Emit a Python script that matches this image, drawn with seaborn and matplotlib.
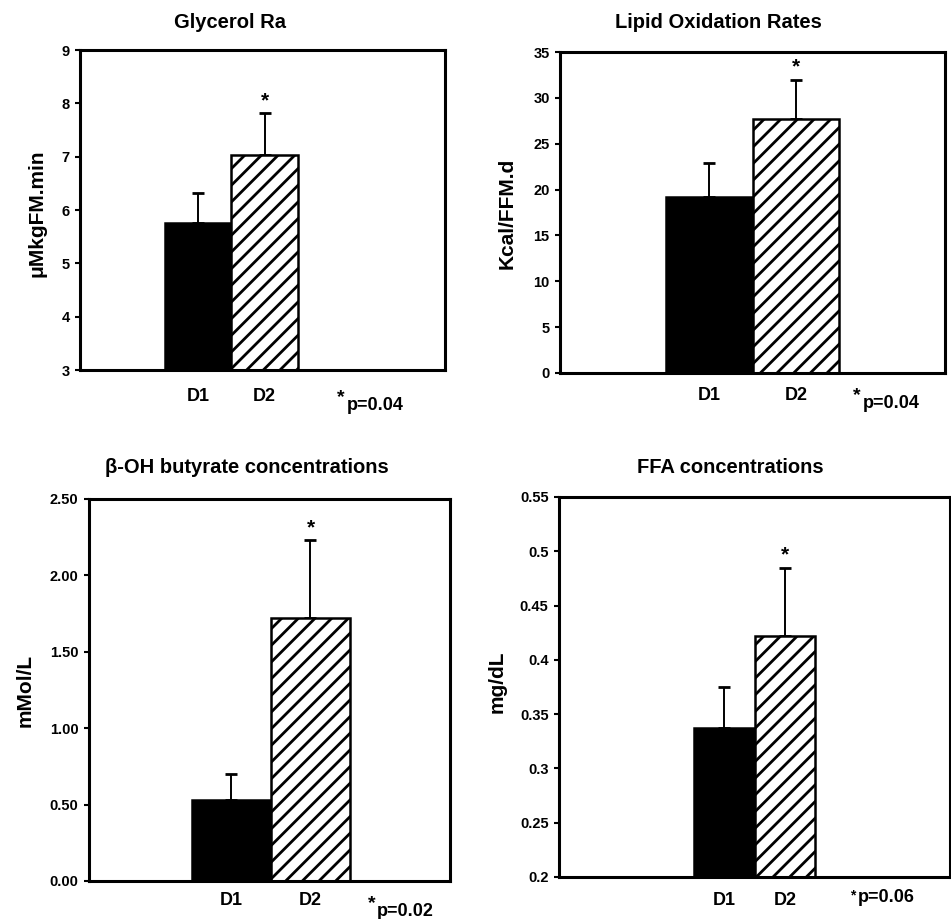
import numpy as np
import pandas as pd
import matplotlib
matplotlib.use("Agg")
import matplotlib.pyplot as plt
import seaborn as sns

# ---------------- data ----------------
days = ["D1", "D2"]
titles = ["Glycerol Ra", "Lipid Oxidation Rates",
          "\u03b2-OH butyrate concentrations", "FFA concentrations"]
ylabels = ["\u03bcMkgFM.min", "Kcal/FFM.d", "mMol/L", "mg/dL"]

glycerol_mean = [5.75, 7.03]
glycerol_err = [0.57, 0.79]
lipid_mean = [19.2, 27.7]
lipid_err = [3.7, 4.3]
bohb_mean = [0.53, 1.72]
bohb_err = [0.17, 0.51]
ffa_mean = [0.337, 0.422]
ffa_err = [0.038, 0.063]

p_labels = ["p=0.04", "p=0.04", "p=0.02", "p=0.06"]

glycerol_ticks = [3, 4, 5, 6, 7, 8, 9]
lipid_ticks = [0, 5, 10, 15, 20, 25, 30, 35]
bohb_ticks = [0.0, 0.5, 1.0, 1.5, 2.0, 2.5]
ffa_ticks = [0.2, 0.25, 0.3, 0.35, 0.4, 0.45, 0.5, 0.55]

glycerol_ticklabels = ["3", "4", "5", "6", "7", "8", "9"]
lipid_ticklabels = ["0", "5", "10", "15", "20", "25", "30", "35"]
bohb_ticklabels = ["0.00", "0.50", "1.00", "1.50", "2.00", "2.50"]
ffa_ticklabels = ["0.2", "0.25", "0.3", "0.35", "0.4", "0.45", "0.5", "0.55"]

# ---------------- style ----------------
sns.set_theme(style="white")
plt.rcParams["font.family"] = ["Liberation Sans", "DejaVu Sans"]
plt.rcParams["font.weight"] = "bold"
plt.rcParams["hatch.linewidth"] = 2.0
for k in ["text.color", "axes.labelcolor", "xtick.color", "ytick.color", "axes.edgecolor"]:
    plt.rcParams[k] = "black"

W, H = 951, 919
fig = plt.figure(figsize=(W / 100, H / 100), dpi=100)


def px(x, y):
    return x / W, 1 - y / H


panels = [
    dict(box=(80, 50, 445, 370), bars=(0.233, 0.597), title=(230, 22), ylab=(37, 213),
         star=(341, 398), p=(347, 405), pad=13, mean=glycerol_mean, err=glycerol_err,
         ticks=glycerol_ticks, tl=glycerol_ticklabels, ylim=(3, 9)),
    dict(box=(560, 52, 945, 373), bars=(0.275, 0.725), title=(718, 22), ylab=(507, 213),
         star=(857, 396), p=(863, 403), pad=10, mean=lipid_mean, err=lipid_err,
         ticks=lipid_ticks, tl=lipid_ticklabels, ylim=(0, 35)),
    dict(box=(89, 499, 450, 881), bars=(0.285, 0.723), title=(247, 467), ylab=(25, 690),
         star=(372, 904), p=(377, 911), pad=8, mean=bohb_mean, err=bohb_err,
         ticks=bohb_ticks, tl=bohb_ticklabels, ylim=(0, 2.5)),
    dict(box=(559, 497, 950, 877), bars=(0.345, 0.655), title=(730, 467), ylab=(497, 682),
         star=(853, 895), p=(858, 898), pad=11, mean=ffa_mean, err=ffa_err,
         ticks=ffa_ticks, tl=ffa_ticklabels, ylim=(0.2, 0.55)),
]

for i, pnl in enumerate(panels):
    l, t, r, b = pnl["box"]
    ax = fig.add_axes([l / W, 1 - b / H, (r - l) / W, (b - t) / H])
    df = pd.DataFrame({"day": days, "value": pnl["mean"]})
    sns.barplot(data=df, x="day", y="value", hue="day",
                palette={"D1": "black", "D2": "white"}, saturation=1,
                width=1.0, legend=False, ax=ax, zorder=2)
    for j, patch in enumerate(ax.patches):
        patch.set_edgecolor("black")
        patch.set_linewidth(1.8)
        if j == 1:
            patch.set_hatch("//")
    ax.errorbar([0, 1], pnl["mean"], yerr=[[0, 0], pnl["err"]], fmt="none",
                ecolor="black", elinewidth=1.4, capsize=4, capthick=2, zorder=1)
    ax.annotate("*", (1, pnl["mean"][1] + pnl["err"][1]), xytext=(0, 2),
                textcoords="offset points", ha="center", va="bottom",
                fontsize=15, fontweight="bold")

    a, c = pnl["bars"]
    scale = 2 / (c - a)
    ax.set_xlim(-0.5 - a * scale, -0.5 + (1 - a) * scale)
    ax.set_ylim(*pnl["ylim"])
    ax.set_yticks(pnl["ticks"])
    ax.set_yticklabels(pnl["tl"], fontsize=10.5, fontweight="bold")
    ax.set_xticks([0, 1])
    ax.set_xticklabels(days, fontsize=13, fontweight="bold")
    ax.tick_params(axis="x", length=0, pad=pnl["pad"])
    ax.tick_params(axis="y", direction="out", length=3.5, width=1.5, pad=4, left=True)
    ax.set_xlabel("")
    ax.set_ylabel("")
    for s in ax.spines.values():
        s.set_visible(True)
        s.set_linewidth(2.2)
        s.set_color("black")

    fig.text(*px(*pnl["title"]), titles[i], ha="center", va="center",
             fontsize=14.5, fontweight="bold")
    fig.text(*px(*pnl["ylab"]), ylabels[i], ha="center", va="center",
             rotation=90, fontsize=15, fontweight="bold")
    fig.text(*px(*pnl["star"]), "*", ha="center", va="center",
             fontsize=14 if i < 3 else 10, fontweight="bold")
    fig.text(*px(*pnl["p"]), p_labels[i], ha="left", va="center",
             fontsize=13, fontweight="bold")

fig.savefig("out.png", dpi=100, facecolor="white")
